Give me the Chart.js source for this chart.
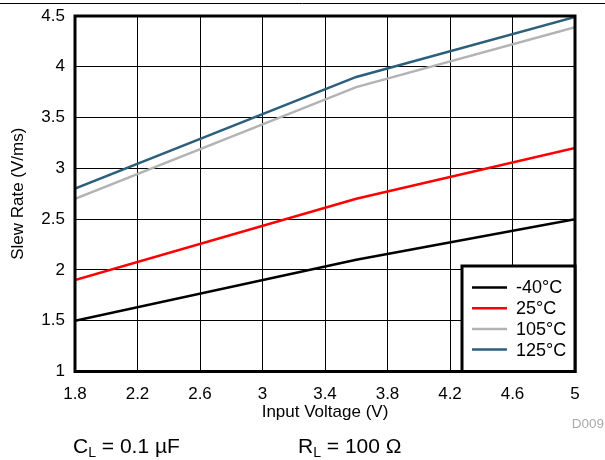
<!DOCTYPE html>
<html>
<head>
<meta charset="utf-8">
<script src="https://cdn.jsdelivr.net/npm/chart.js@4/dist/chart.umd.min.js"></script>
<style>
  html, body { margin: 0; padding: 0; background: #fff; }
  #wrap { width: 605px; height: 460px; position: relative; }
</style>
</head>
<body>
<div id="wrap"><canvas id="myChart" width="605" height="460"></canvas></div>
<script>
// values
const inputVoltage = [1.8, 3.6, 5];
const slewMinus40 = [1.5, 2.1, 2.5];
const slew25 = [1.9, 2.7, 3.2];
const slew105 = [2.7, 3.8, 4.39];
const slew125 = [2.8, 3.9, 4.49];
const seriesLabels = ['-40°C', '25°C', '105°C', '125°C'];
const xTickLabels = [1.8, 2.2, 2.6, 3, 3.4, 3.8, 4.2, 4.6, 5];
const yTickLabels = [1, 1.5, 2, 2.5, 3, 3.5, 4, 4.5];

const FONT = "'Liberation Sans', Arial, sans-serif";
const colors = ['#000000', '#ff0000', '#b3b3b3', '#2b5f7b'];

const toPoints = (ys) => inputVoltage.map((x, i) => ({ x: x, y: ys[i] }));

// frame, legend box and the notes under the chart
const decorPlugin = {
    id: 'decor',
    afterDatasetsDraw(chart) {
        const ctx = chart.ctx;
        const a = chart.chartArea;
        ctx.save();
        // plot frame
        ctx.strokeStyle = '#000';
        ctx.lineWidth = 3;
        ctx.strokeRect(a.left, a.top, a.right - a.left, a.bottom - a.top);

        // legend box in the lower right corner
        const lx = 462, ly = 266;
        ctx.fillStyle = '#fff';
        ctx.fillRect(lx, ly, a.right - lx, a.bottom - ly);
        ctx.lineWidth = 3;
        ctx.strokeRect(lx, ly, a.right - lx, a.bottom - ly);
        ctx.font = '18px ' + FONT;
        ctx.textBaseline = 'middle';
        chart.data.datasets.forEach((ds, i) => {
            const y = 287.5 + i * 20.7;
            ctx.strokeStyle = ds.borderColor;
            ctx.lineWidth = 2.5;
            ctx.beginPath();
            ctx.moveTo(472, y);
            ctx.lineTo(507, y);
            ctx.stroke();
            ctx.fillStyle = '#000';
            ctx.fillText(ds.label, 516, y + 1);
        });
        ctx.restore();
    },
    afterDraw(chart) {
        const ctx = chart.ctx;
        ctx.save();
        // thin rule at the very top
        ctx.strokeStyle = '#000';
        ctx.lineWidth = 1;
        ctx.beginPath();
        ctx.moveTo(0, 3.5);
        ctx.lineTo(605, 3.5);
        ctx.stroke();

        ctx.fillStyle = '#000';
        ctx.textBaseline = 'alphabetic';
        const note = (x, main, sub, rest) => {
            ctx.font = '21px ' + FONT;
            ctx.fillText(main, x, 453);
            x += ctx.measureText(main).width;
            ctx.font = '14px ' + FONT;
            ctx.fillText(sub, x, 457);
            x += ctx.measureText(sub).width;
            ctx.font = '21px ' + FONT;
            ctx.fillText(rest, x, 453);
        };
        note(73, 'C', 'L', ' = 0.1 \u00b5F');
        note(298, 'R', 'L', ' = 100 \u03a9');

        ctx.fillStyle = '#aaaaaa';
        ctx.font = '13.5px ' + FONT;
        ctx.textAlign = 'right';
        ctx.fillText('D009', 604, 428);
        ctx.restore();
    }
};

const ctx = document.getElementById('myChart').getContext('2d');
new Chart(ctx, {
    type: 'line',
    data: {
        datasets: [slewMinus40, slew25, slew105, slew125].map((ys, i) => ({
            label: seriesLabels[i],
            data: toPoints(ys),
            borderColor: colors[i],
            backgroundColor: colors[i],
            borderWidth: 2.5,
            pointRadius: 0,
            tension: 0,
            fill: false
        }))
    },
    options: {
        responsive: false,
        animation: false,
        layout: { padding: { top: 16, right: 30, bottom: 37.5, left: 0 } },
        plugins: {
            legend: { display: false },
            tooltip: { enabled: false }
        },
        scales: {
            x: {
                type: 'linear',
                min: 1.8,
                max: 5,
                afterBuildTicks: (scale) => { scale.ticks = xTickLabels.map(v => ({ value: v })); },
                afterFit: (scale) => { scale.height = 51; },
                grid: { color: '#000', lineWidth: 1, drawTicks: false },
                border: { display: false },
                ticks: {
                    color: '#000',
                    font: { family: FONT, size: 17 },
                    padding: 13,
                    maxRotation: 0,
                    autoSkip: false,
                    callback: (v) => String(v)
                },
                title: {
                    display: true,
                    text: 'Input Voltage (V)',
                    color: '#000',
                    font: { family: FONT, size: 17 },
                    padding: 0
                }
            },
            y: {
                min: 1,
                max: 4.5,
                afterBuildTicks: (scale) => { scale.ticks = yTickLabels.map(v => ({ value: v })); },
                afterFit: (scale) => {
                    scale.width = 75;
                    // keep the label overflow from pushing the plot down
                    scale.paddingTop = 0;
                    scale.paddingBottom = 0;
                },
                grid: { color: '#000', lineWidth: 1, drawTicks: false },
                border: { display: false },
                ticks: {
                    color: '#000',
                    font: { family: FONT, size: 17 },
                    padding: 10,
                    autoSkip: false,
                    callback: (v) => String(v)
                },
                title: {
                    display: true,
                    text: 'Slew Rate (V/ms)',
                    color: '#000',
                    font: { family: FONT, size: 17 },
                    padding: { top: 8, bottom: 0 }
                }
            }
        }
    },
    plugins: [decorPlugin]
});
</script>
</body>
</html>
